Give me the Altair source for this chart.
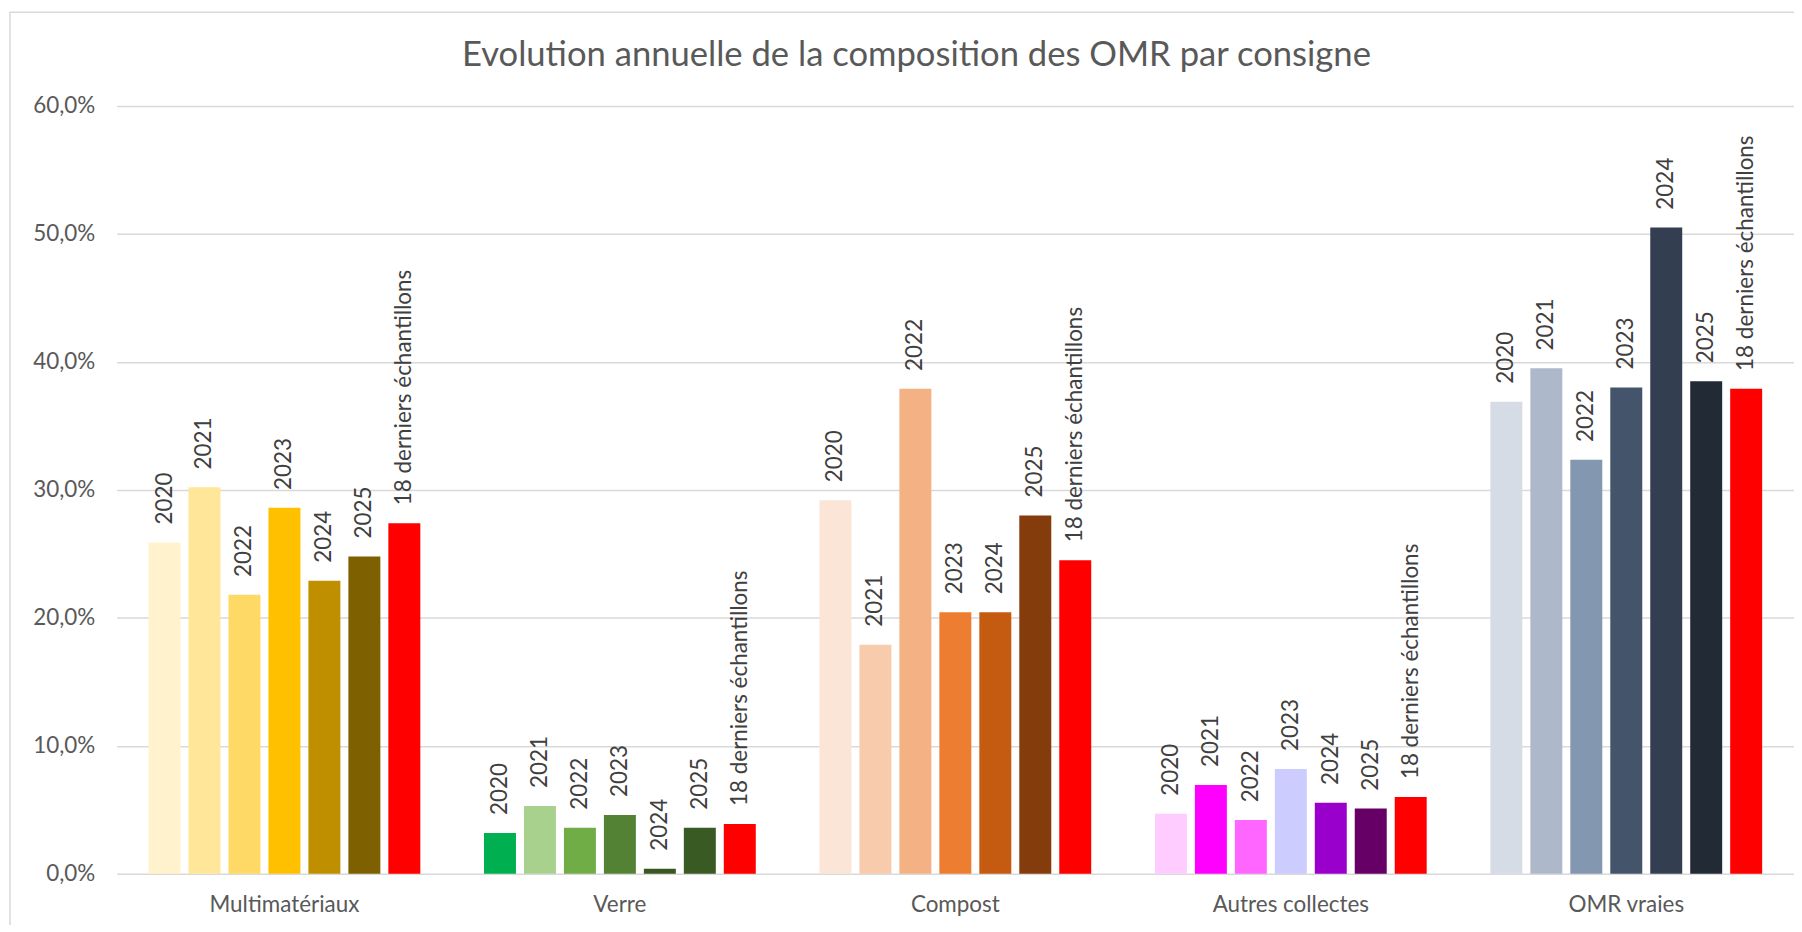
import altair as alt
import pandas as pd

categories = ["Multimatériaux", "Verre", "Compost", "Autres collectes", "OMR vraies"]
series = ["2020", "2021", "2022", "2023", "2024", "2025", "18 derniers échantillons"]

multimateriaux = [25.9, 30.2, 21.8, 28.6, 22.9, 24.8, 27.4]
verre = [3.2, 5.3, 3.6, 4.6, 0.4, 3.6, 3.9]
compost = [29.2, 17.9, 37.9, 20.45, 20.45, 28.0, 24.5]
autres = [4.7, 6.95, 4.2, 8.2, 5.55, 5.1, 6.0]
omr = [36.9, 39.5, 32.35, 38.0, 50.5, 38.5, 37.9]

colors_multi = ["#FFF2CC", "#FFE699", "#FFD966", "#FFC000", "#BF8F00", "#7F6000", "#FF0000"]
colors_verre = ["#00B050", "#A9D18E", "#70AD47", "#548235", "#385723", "#3A5A24", "#FF0000"]
colors_compost = ["#FBE5D6", "#F8CBAD", "#F4B183", "#ED7D31", "#C55A11", "#843C0C", "#FF0000"]
colors_autres = ["#FFCCFF", "#FF00FF", "#FF66FF", "#CCCCFF", "#9900CC", "#660066", "#FF0000"]
colors_omr = ["#D6DCE5", "#ADB9CA", "#8497B0", "#44546A", "#333F50", "#222A35", "#FF0000"]

title_text = "Evolution annuelle de la composition des OMR par consigne"

values = [multimateriaux, verre, compost, autres, omr]
colors = [colors_multi, colors_verre, colors_compost, colors_autres, colors_omr]

rows = []
for c, vals, cols in zip(categories, values, colors):
    for s, v, col in zip(series, vals, cols):
        rows.append({"cat": c, "serie": s, "value": v, "color": col})
df = pd.DataFrame(rows)

FONT = "Lato"
W, H = 1682, 770

x_enc = alt.X("cat:N", sort=categories, title=None,
              scale=alt.Scale(paddingInner=0.166, paddingOuter=0.083),
              axis=alt.Axis(labelAngle=0, labelFontSize=22.5, labelColor="#595959",
                            labelFont=FONT, ticks=False, domain=False, labelPadding=20))
xo_enc = alt.XOffset("serie:N", sort=series,
                     scale=alt.Scale(paddingInner=0.2, paddingOuter=0.1))
y_enc = alt.Y("value:Q", title=None,
              scale=alt.Scale(domain=[0, 60], nice=False),
              axis=alt.Axis(values=[0, 10, 20, 30, 40, 50, 60],
                            labelExpr="replace(format(datum.value, '.1f'), '.', ',') + '%'",
                            labelFontSize=22.5, labelColor="#595959", labelFont=FONT,
                            ticks=False, domain=False, labelPadding=22,
                            gridColor="#D9D9D9", gridWidth=1.5))

base = alt.Chart(df)

bars = base.mark_bar().encode(
    x=x_enc, xOffset=xo_enc, y=y_enc,
    color=alt.Color("color:N", scale=None),
)

labels = base.mark_text(angle=270, align="left", baseline="middle", dx=18,
                        fontSize=22.5, font=FONT, color="#404040").encode(
    x=alt.X("cat:N", sort=categories),
    xOffset=alt.XOffset("serie:N", sort=series),
    y=alt.Y("value:Q"),
    text="serie:N",
)

deco = alt.Chart(pd.DataFrame({"t": [title_text]}))

title = deco.mark_text(fontSize=34.7, font=FONT, color="#595959", baseline="middle",
                       align="center").encode(
    x=alt.value(802), y=alt.value(-50), text="t:N")

border = deco.mark_rect(fill=None, stroke="#D9D9D9", strokeWidth=1.5).encode(
    x=alt.value(-107), x2=alt.value(W + 40), y=alt.value(-94), y2=alt.value(H + 80))

chart = alt.layer(border, bars, labels, title).properties(
    width=W, height=H,
    autosize=alt.AutoSizeParams(type="none"),
    padding={"left": 109, "top": 97, "right": 0, "bottom": 50},
).configure_view(stroke=None)

chart.save("out.html", embed_options={"renderer": "svg", "actions": False})
